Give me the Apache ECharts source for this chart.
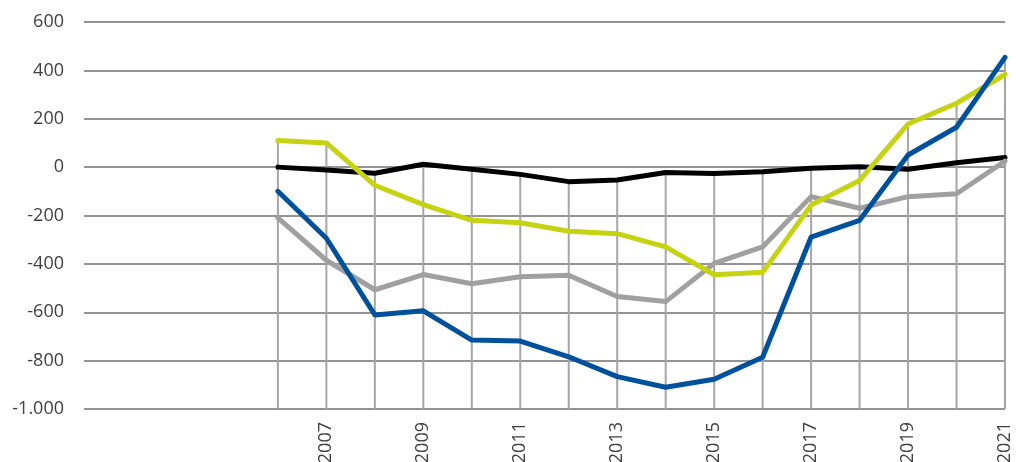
<!DOCTYPE html>
<html>
<head>
<meta charset="utf-8">
<script src="https://cdn.jsdelivr.net/npm/echarts@6/dist/echarts.min.js"></script>
<style>
  html, body { margin: 0; padding: 0; background: #fff; }
  #chart { width: 1016px; height: 462px; }
</style>
</head>
<body>
<div id="chart"></div>
<script>
// Years with data; the axis begins a few years earlier, leaving empty space on the left
const years = [2006, 2007, 2008, 2009, 2010, 2011, 2012, 2013, 2014, 2015, 2016, 2017, 2018, 2019, 2020, 2021];
const axisStartYear = 2002;
const axisEndYear = 2021;

const yellowValues = [110, 100, -75, -155, -220, -230, -265, -275, -330, -445, -435, -157, -55, 178, 264, 383];
const blackValues  = [0, -12, -25, 12, -9, -30, -60, -53, -22, -26, -19, -5, 2, -9, 18, 40];
const greyValues   = [-210, -385, -507, -444, -482, -453, -447, -535, -556, -398, -330, -122, -170, -122, -110, 25];
const blueValues   = [-100, -294, -611, -594, -715, -719, -784, -866, -910, -877, -786, -289, -220, 50, 165, 454];

const yMin = -1000, yMax = 600, yStep = 200;

const pair = (vals) => vals.map((v, i) => [years[i], v]);

// Drop lines run from the highest series value down to the bottom of the axis
const allSeries = [yellowValues, blackValues, greyValues, blueValues];
const dropTops = years.map((y, i) => [y, Math.max(...allSeries.map(s => s[i]))]);

const chart = echarts.init(document.getElementById('chart'), null, { renderer: 'canvas' });

const lineSeries = (name, vals, color, z) => ({
  name, type: 'line', data: pair(vals), showSymbol: false, symbol: 'none',
  lineStyle: { color, width: 5, cap: 'round', join: 'round' },
  z, animation: false
});

chart.setOption({
  animation: false,
  grid: { left: 84, right: 11, top: 22, bottom: 53, containLabel: false, outerBoundsMode: 'none' },
  xAxis: {
    type: 'value', min: axisStartYear, max: axisEndYear, interval: 1,
    splitLine: { show: false },
    axisLine: { show: false },
    axisTick: { show: false },
    axisLabel: {
      rotate: 90, margin: 13,
      fontFamily: 'Open Sans', fontSize: 18, color: '#404040',
      formatter: (v) => (v >= 2007 && v % 2 === 1) ? String(v) : ''
    }
  },
  yAxis: {
    type: 'value', min: yMin, max: yMax, interval: yStep,
    axisLine: { show: false },
    axisTick: { show: false },
    splitLine: { lineStyle: { color: '#949494', width: 2 } },
    axisLabel: {
      margin: 20, fontFamily: 'Open Sans', fontSize: 18, color: '#404040',
      formatter: (v) => v.toLocaleString('de-DE')
    }
  },
  series: [
    {
      type: 'custom', z: 1, animation: false,
      data: dropTops,
      renderItem: (params, api) => {
        const top = api.coord([api.value(0), api.value(1)]);
        const bottom = api.coord([api.value(0), yMin]);
        return {
          type: 'line',
          shape: { x1: top[0], y1: top[1], x2: bottom[0], y2: bottom[1] },
          style: { stroke: '#a6a6a6', lineWidth: 2 }
        };
      }
    },
    lineSeries('black', blackValues, '#000000', 3),
    lineSeries('grey', greyValues, '#a0a0a0', 4),
    lineSeries('yellow', yellowValues, '#c6d312', 5),
    lineSeries('blue', blueValues, '#00519c', 6)
  ]
});
</script>
</body>
</html>
